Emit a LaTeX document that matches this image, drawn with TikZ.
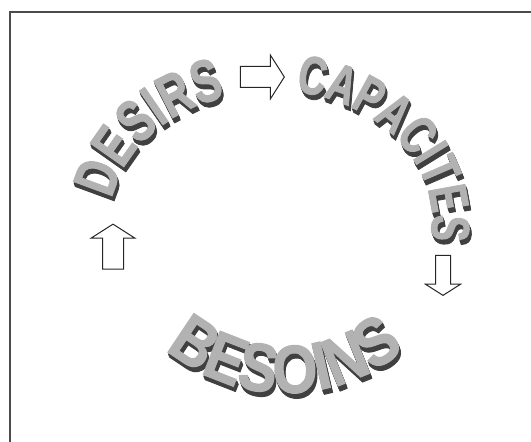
\documentclass[tikz,border=0pt]{standalone}
\usepackage{fontspec}
\usetikzlibrary{decorations.text, shapes.arrows}
\newfontfamily\artfont{Liberation Sans}[FakeStretch=0.72, BoldFeatures={FakeBold=1.5}]
\newfontfamily\artwide{Liberation Sans}[FakeStretch=0.85, BoldFeatures={FakeBold=1.5}]

\tikzset{
  wordart/.style n args={4}{decorate, decoration={text along path, text align=center,
      text color=#1, text={|#2\bfseries\fontsize{#3}{#3}\selectfont|#4}}},
  blockarrow/.style={single arrow, draw=black!85, fill=white, line width=1pt, inner sep=10pt,
      minimum height=#1, single arrow head extend=11.5pt, single arrow tip angle=115}
}

\begin{document}
\begin{tikzpicture}[x=1pt, y=1pt]
  \useasboundingbox (0,0) rectangle (531,442);
  \clip (0,0) rectangle (531,442);
  % frame
  \draw[black!70, line width=1.5pt] (10,-20) rectangle (560,430);

  % curved words: dark extrusion first, light face on top
  \foreach \dx/\col in {5/black!75, 4/black!75, 3/black!75, 2/black!75, 0/black!30} {
    \path[wordart={\col}{\artfont}{60}{DESIRS}] (270+0.4*\dx,222-\dx) ++(178:160 and 128)
      arc[start angle=178, end angle=100, x radius=160, y radius=128];
    \path[wordart={\col}{\artfont}{54}{CAPACITES}] (270+0.4*\dx,222-\dx) ++(82:162 and 130)
      arc[start angle=82, end angle=-10, x radius=162, y radius=130];
    \path[wordart={\col}{\artwide}{68}{BESOINS}] (285+0.4*\dx,234-\dx) ++(210:185)
      arc[start angle=210, end angle=330, radius=185];
  }

  % block arrows
  \node[blockarrow=44pt] (desirs2cap) at (259,365) {};
  \node[blockarrow=40pt, inner sep=7pt, single arrow head extend=10pt,
        shape border rotate=263] (cap2bes) at (443,169) {};
  \node[blockarrow=45pt, shape border rotate=90] (bes2desirs) at (113,192) {};
\end{tikzpicture}
\end{document}
